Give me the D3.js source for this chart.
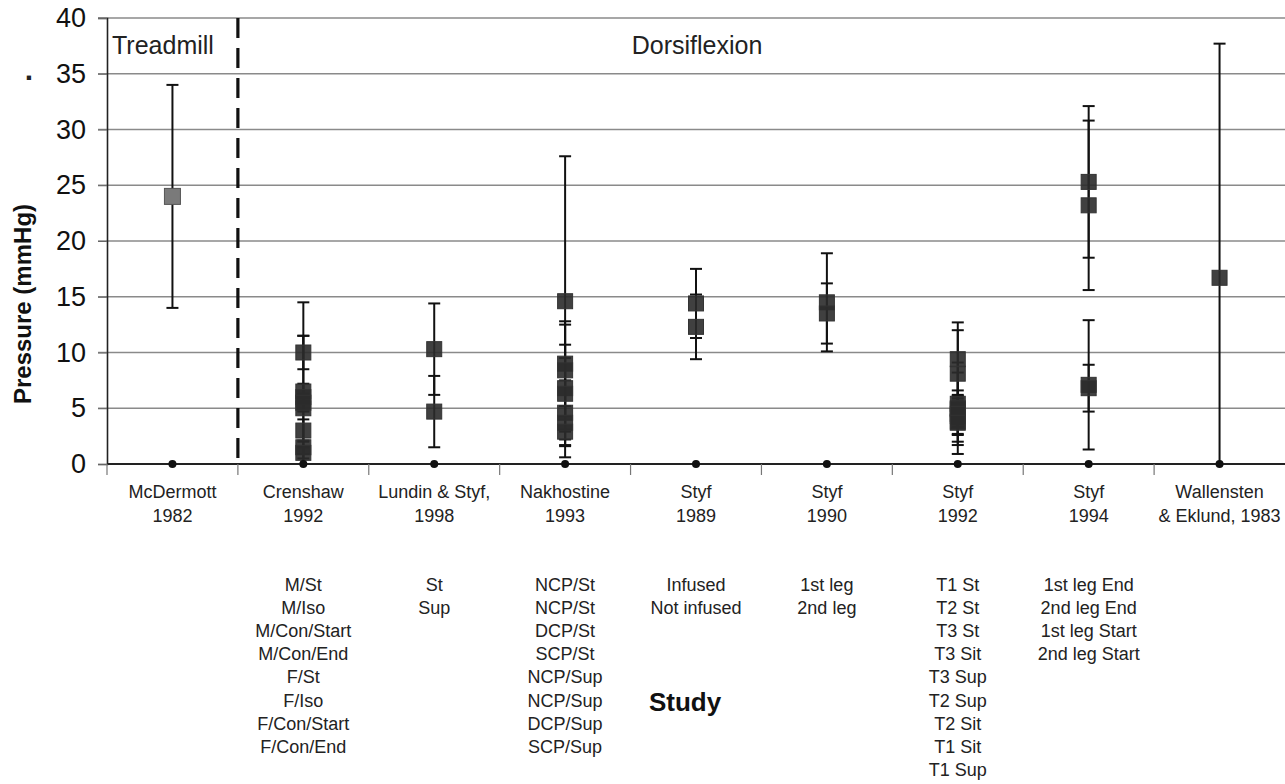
<!DOCTYPE html>
<html>
<head>
<meta charset="utf-8">
<script src="https://cdn.jsdelivr.net/npm/d3@7"></script>
<style>
  body { margin: 0; background: #fff; }
  svg { display: block; font-family: "Liberation Sans", Arial, sans-serif; }
</style>
</head>
<body>
<svg id="chart" width="1285" height="784"></svg>
<script>
// studies along the x axis (two lines each)
const studies = ["McDermott 1982", "Crenshaw 1992", "Lundin & Styf 1998", "Nakhostine 1993",
  "Styf 1989", "Styf 1990", "Styf 1992", "Styf 1994", "Wallensten & Eklund 1983"];
const studyLines = [["McDermott", "1982"], ["Crenshaw", "1992"], ["Lundin & Styf,", "1998"],
  ["Nakhostine", "1993"], ["Styf", "1989"], ["Styf", "1990"], ["Styf", "1992"], ["Styf", "1994"],
  ["Wallensten", "& Eklund, 1983"]];

// conditions listed under each study
const conditions = [
  [],
  ["M/St", "M/Iso", "M/Con/Start", "M/Con/End", "F/St", "F/Iso", "F/Con/Start", "F/Con/End"],
  ["St", "Sup"],
  ["NCP/St", "NCP/St", "DCP/St", "SCP/St", "NCP/Sup", "NCP/Sup", "DCP/Sup", "SCP/Sup"],
  ["Infused", "Not infused"],
  ["1st leg", "2nd leg"],
  ["T1 St", "T2 St", "T3 St", "T3 Sit", "T3 Sup", "T2 Sup", "T2 Sit", "T1 Sit", "T1 Sup"],
  ["1st leg End", "2nd leg End", "1st leg Start", "2nd leg Start"],
  []
];

// mean pressure (mmHg) per condition
const means = [
  [24.0],
  [10.0, 6.5, 5.0, 6.0, 3.0, 5.5, 1.5, 1.0],
  [10.3, 4.7],
  [14.6, 9.0, 8.4, 6.8, 6.3, 4.6, 3.7, 2.9],
  [14.4, 12.3],
  [14.5, 13.5],
  [9.4, 8.1, 5.4, 4.9, 4.3, 3.8, 5.0, 4.5, 3.7],
  [25.3, 23.2, 7.1, 6.8],
  [16.7]
];

// standard deviation per condition
const sds = [
  [10.0],
  [1.5, 8.0, 6.5, 1.2, 1.0, 0.8, 0.6, 0.5],
  [4.1, 3.2],
  [13.0, 3.8, 4.1, 3.9, 3.2, 2.9, 1.5, 2.3],
  [3.1, 2.9],
  [4.4, 2.7],
  [3.3, 3.9, 2.8, 1.3, 2.3, 2.1, 4.1, 1.2, 1.0],
  [6.8, 7.6, 5.8, 2.1],
  [21.0]
];

const yTicks = [0, 5, 10, 15, 20, 25, 30, 35, 40];

const svg = d3.select("#chart");

const x = d3.scaleBand().domain(studies).range([107, 1285]);
const y = d3.scaleLinear().domain([0, 40]).range([464, 18]);

// grid lines
svg.append("g")
  .selectAll("line")
  .data(yTicks.filter(d => d > 0))
  .join("line")
  .attr("x1", 98).attr("x2", 1285)
  .attr("y1", d => y(d)).attr("y2", d => y(d))
  .attr("stroke", "#8a8a8a").attr("stroke-width", 1.6);

// y axis
const yAxis = svg.append("g")
  .attr("transform", "translate(107,0)")
  .call(d3.axisLeft(y).tickValues(yTicks).tickSize(9).tickPadding(12));
yAxis.select(".domain").attr("stroke", "#222").attr("stroke-width", 1.6);
yAxis.selectAll(".tick line").attr("stroke", "#666");
yAxis.selectAll(".tick text").attr("font-size", 27).attr("fill", "#111")
  .attr("font-family", "Liberation Sans, Arial, sans-serif");

// x axis baseline and boundary ticks
svg.append("line")
  .attr("x1", 107).attr("x2", 1285).attr("y1", y(0)).attr("y2", y(0))
  .attr("stroke", "#222").attr("stroke-width", 2);

svg.append("g")
  .selectAll("line")
  .data(studies)
  .join("line")
  .attr("x1", d => x(d)).attr("x2", d => x(d))
  .attr("y1", y(0)).attr("y2", y(0) + 11)
  .attr("stroke", "#777").attr("stroke-width", 1.2);

// study labels
const labels = svg.append("g").selectAll("text")
  .data(studies)
  .join("text")
  .attr("x", d => x(d) + x.bandwidth() / 2)
  .attr("y", 498)
  .attr("text-anchor", "middle")
  .attr("font-size", 18)
  .attr("fill", "#222");
labels.each(function(d, i) {
  const t = d3.select(this);
  studyLines[i].forEach((line, j) => {
    t.append("tspan").attr("x", x(d) + x.bandwidth() / 2).attr("dy", j === 0 ? 0 : 24).text(line);
  });
});

// condition lists
studies.forEach((s, i) => {
  svg.append("g").selectAll("text")
    .data(conditions[i])
    .join("text")
    .attr("x", x(s) + x.bandwidth() / 2)
    .attr("y", (d, j) => 591 + j * 23.1)
    .attr("text-anchor", "middle")
    .attr("font-size", 18)
    .attr("fill", "#222")
    .text(d => d);
});

// dashed separator between treadmill and dorsiflexion
svg.append("line")
  .attr("x1", x(studies[1])).attr("x2", x(studies[1]))
  .attr("y1", y(40)).attr("y2", y(0))
  .attr("stroke", "#111").attr("stroke-width", 3.2)
  .attr("stroke-dasharray", "20,10");

// clip for error bars
svg.append("clipPath").attr("id", "plotclip")
  .append("rect").attr("x", 107).attr("y", 0).attr("width", 1178).attr("height", y(0));

// flatten points
const points = [];
studies.forEach((s, i) => {
  means[i].forEach((m, j) => {
    points.push({ study: s, idx: i, mean: m, sd: sds[i][j] });
  });
});

const plot = svg.append("g").attr("clip-path", "url(#plotclip)");
const cx = d => x(d.study) + x.bandwidth() / 2;
const capW = 6;

// error bars
plot.selectAll("line.err")
  .data(points)
  .join("line")
  .attr("class", "err")
  .attr("x1", cx).attr("x2", cx)
  .attr("y1", d => y(d.mean + d.sd)).attr("y2", d => y(d.mean - d.sd))
  .attr("stroke", "#111").attr("stroke-width", 2);
plot.selectAll("line.capTop")
  .data(points)
  .join("line")
  .attr("x1", d => cx(d) - capW).attr("x2", d => cx(d) + capW)
  .attr("y1", d => y(d.mean + d.sd)).attr("y2", d => y(d.mean + d.sd))
  .attr("stroke", "#111").attr("stroke-width", 2);
plot.selectAll("line.capBot")
  .data(points)
  .join("line")
  .attr("x1", d => cx(d) - capW).attr("x2", d => cx(d) + capW)
  .attr("y1", d => y(d.mean - d.sd)).attr("y2", d => y(d.mean - d.sd))
  .attr("stroke", "#111").attr("stroke-width", 2);

// markers
const sq = 15;
svg.append("g").selectAll("rect")
  .data(points)
  .join("rect")
  .attr("x", d => cx(d) - (d.idx === 0 ? 8 : sq / 2))
  .attr("y", d => y(d.mean) - (d.idx === 0 ? 8 : sq / 2))
  .attr("width", d => d.idx === 0 ? 16 : sq)
  .attr("height", d => d.idx === 0 ? 16 : sq)
  .attr("fill", d => d.idx === 0 ? "#7a7a7a" : "#2b2b2b")
  .attr("fill-opacity", d => d.idx === 0 ? 1 : 0.9)
  .attr("stroke", d => d.idx === 0 ? "#555" : "#333")
  .attr("stroke-width", 1);

// zero dots
svg.append("g").selectAll("circle")
  .data(studies)
  .join("circle")
  .attr("cx", d => x(d) + x.bandwidth() / 2)
  .attr("cy", y(0))
  .attr("r", 4)
  .attr("fill", "#111");

// annotations
svg.append("text").attr("x", 112).attr("y", 54).attr("font-size", 25).attr("fill", "#222").text("Treadmill");
svg.append("text").attr("x", 697).attr("y", 54).attr("font-size", 25).attr("fill", "#222")
  .attr("text-anchor", "middle").text("Dorsiflexion");
svg.append("text").attr("x", 29).attr("y", 80).attr("font-size", 30).attr("font-weight", "bold")
  .attr("fill", "#222").attr("text-anchor", "middle").text(".");

// axis titles
svg.append("text")
  .attr("transform", "translate(31,304) rotate(-90)")
  .attr("text-anchor", "middle")
  .attr("font-size", 24).attr("font-weight", "bold").attr("fill", "#111")
  .text("Pressure (mmHg)");
svg.append("text")
  .attr("x", 685).attr("y", 711)
  .attr("text-anchor", "middle")
  .attr("font-size", 26).attr("font-weight", "bold").attr("fill", "#111")
  .text("Study");
</script>
</body>
</html>
